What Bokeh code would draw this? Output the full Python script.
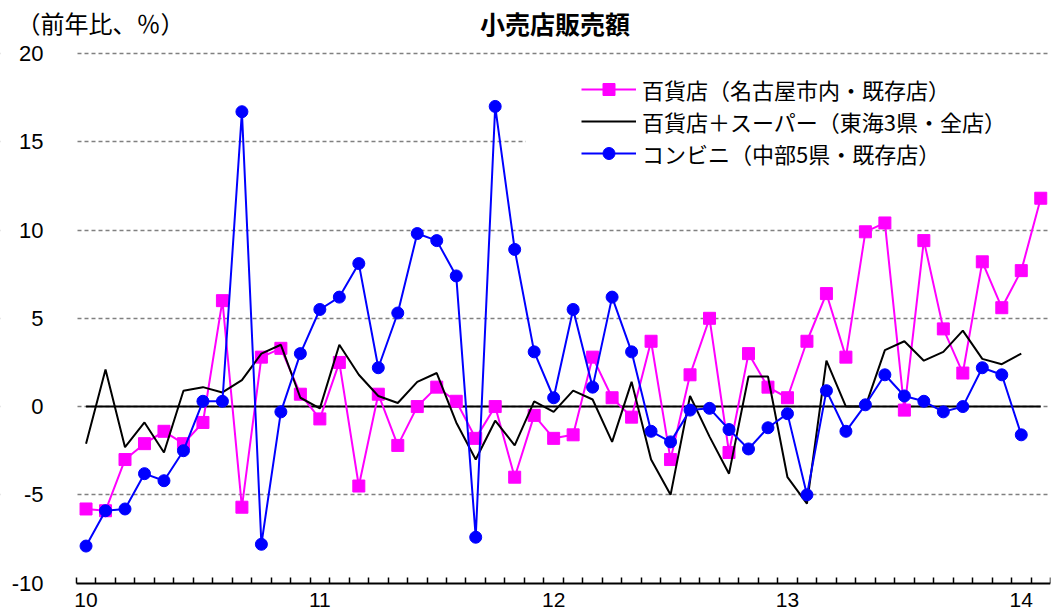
from bokeh.plotting import figure
from bokeh.models import (Range1d, LinearAxis, FixedTicker, Grid, Legend, LegendItem,
                          BoxAnnotation, Label)
from bokeh.core.properties import value
from bokeh.embed import file_html
from bokeh.resources import INLINE

# monthly data, Jan 2010 .. Feb 2014 (index 0 = 2010/1)
months = list(range(50))
year_labels = ["10", "11", "12", "13", "14"]
year_start = [0, 12, 24, 36, 48]
y_ticks = [-10, -5, 0, 5, 10, 15, 20]

# 百貨店（名古屋市内・既存店）
dept_nagoya = [-5.8, -5.9, -3.0, -2.1, -1.4, -2.1, -0.9, 6.0, -5.7, 2.8,
               3.3, 0.7, -0.7, 2.5, -4.5, 0.7, -2.2, 0.0, 1.1, 0.3,
               -1.8, 0.0, -4.0, -0.5, -1.8, -1.6, 2.8, 0.5, -0.6, 3.7,
               -3.0, 1.8, 5.0, -2.6, 3.0, 1.1, 0.5, 3.7, 6.4, 2.8,
               9.9, 10.4, -0.2, 9.4, 4.4, 1.9, 8.2, 5.6, 7.7, 11.8]

# 百貨店＋スーパー（東海3県・全店）
dept_super = [-2.1, 2.1, -2.3, -0.9, -2.6, 0.9, 1.1, 0.8, 1.5, 3.0,
              3.5, 0.5, -0.1, 3.5, 1.8, 0.6, 0.2, 1.4, 1.9, -0.9,
              -3.0, -0.8, -2.2, 0.3, -0.3, 0.9, 0.4, -2.0, 1.4, -3.0,
              -5.0, 0.6, -1.7, -3.8, 1.7, 1.7, -4.0, -5.5, 2.6, 0.0,
              0.0, 3.2, 3.7, 2.6, 3.1, 4.3, 2.7, 2.4, 3.0]

# コンビニ（中部5県・既存店）
conv = [-7.9, -5.9, -5.8, -3.8, -4.2, -2.5, 0.3, 0.3, 16.7, -7.8,
        -0.3, 3.0, 5.5, 6.2, 8.1, 2.2, 5.3, 9.8, 9.4, 7.4,
        -7.4, 17.0, 8.9, 3.1, 0.5, 5.5, 1.1, 6.2, 3.1, -1.4,
        -2.0, -0.2, -0.1, -1.3, -2.4, -1.2, -0.4, -5.0, 0.9, -1.4,
        0.1, 1.8, 0.6, 0.3, -0.3, 0.0, 2.2, 1.8, -1.6]

zero_line = [0.0] * len(months)

# points sit in the middle of each month slot
x = [m + 0.5 for m in months]

# the frame covers the whole canvas so the titles and y labels can live inside it
p = figure(width=1062, height=613, x_range=Range1d(-3.89, 50), y_range=Range1d(-11.72, 23.0),
           x_axis_type=None, y_axis_type=None,
           output_backend="svg", toolbar_location=None,
           min_border_left=0, min_border_right=12, min_border_top=0, min_border_bottom=0)
p.outline_line_color = None
p.background_fill_color = "white"

# dashed horizontal grid
grid = Grid(dimension=1, ticker=FixedTicker(ticks=y_ticks[1:]),
            grid_line_color="#808080", grid_line_dash="4 3", grid_line_width=1.5)
p.add_layout(grid, "center")
# keep the grid out of the label strip on the left
p.add_layout(BoxAnnotation(right=0, fill_color="white", fill_alpha=1.0, line_color=None,
                           level="underlay"))

# y tick labels
p.text(x=[-1.68] * len(y_ticks), y=y_ticks, text=[str(v) for v in y_ticks],
       text_align="right", text_baseline="middle",
       text_font=value("Liberation Sans"), text_font_size="22px", text_color="black")

# x axis: month ticks pointing up, year labels under January
xaxis = LinearAxis(ticker=FixedTicker(ticks=[s + 0.5 for s in year_start],
                                      minor_ticks=list(range(51))),
                   major_label_overrides=dict(zip([s + 0.5 for s in year_start], year_labels)),
                   fixed_location=-10, bounds=(0, 50),
                   axis_line_color="black", axis_line_width=2,
                   major_tick_in=0, major_tick_out=0,
                   minor_tick_in=6, minor_tick_out=0,
                   minor_tick_line_color="black", minor_tick_line_width=1.5,
                   major_label_standoff=10,
                   major_label_text_font="Liberation Sans", major_label_text_font_size="21px",
                   major_label_text_color="black")
p.add_layout(xaxis, "below")

p.line(x, zero_line, color="black", line_width=2)

pink = "#FF00FF"
blue = "#0000FF"
r1l = p.line(x, dept_nagoya, color=pink, line_width=2)
r1m = p.scatter(x, dept_nagoya, marker="square", size=12, color=pink)
r2l = p.line(x[:len(dept_super)], dept_super, color="black", line_width=2)
r3l = p.line(x[:len(conv)], conv, color=blue, line_width=2)
r3m = p.scatter(x[:len(conv)], conv, marker="circle", size=12, color=blue)

# white patch behind the legend that hides the 15 gridline
p.add_layout(BoxAnnotation(left=23.06, bottom=13.5, top=16.5, fill_color="white",
                           fill_alpha=1.0, line_color=None))

legend = Legend(items=[
    LegendItem(label="百貨店（名古屋市内・既存店）", renderers=[r1l, r1m]),
    LegendItem(label="百貨店＋スーパー（東海3県・全店）", renderers=[r2l]),
    LegendItem(label="コンビニ（中部5県・既存店）", renderers=[r3l, r3m]),
], location=(581, 444), orientation="vertical",
    label_text_font="Noto Sans CJK JP", label_text_font_size="22px", label_text_color="black",
    glyph_width=55, glyph_height=30, label_height=30, label_standoff=6, spacing=-2,
    padding=0, margin=0, border_line_color=None, background_fill_color="white")
p.add_layout(legend)

title = Label(x=24.57, y=21.73, text="小売店販売額", text_align="center", text_baseline="middle",
              text_font="Noto Sans CJK JP", text_font_size="25px", text_font_style="bold",
              text_color="black")
unit = Label(x=-3.07, y=21.73, text="（前年比、％）", text_align="left", text_baseline="middle",
             text_font="Noto Sans CJK JP", text_font_size="24px", text_color="black")
p.add_layout(title)
p.add_layout(unit)

open("out.html", "w", encoding="utf-8").write(file_html(p, INLINE))
